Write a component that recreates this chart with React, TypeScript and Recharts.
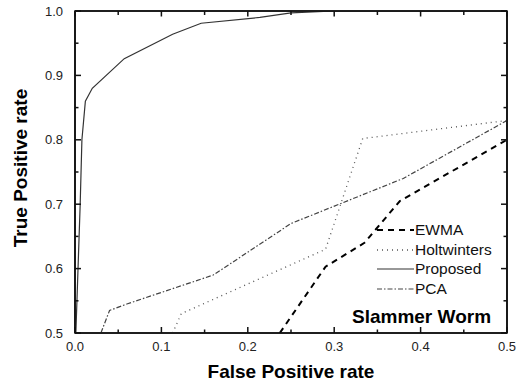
import React from "react";
import { LineChart, Line, XAxis, YAxis, Label, ReferenceArea } from "recharts";

// ROC curves, Slammer Worm
const seriesNames = ["EWMA", "Holtwinters", "Proposed", "PCA"];

const ewmaFpr = [0.237, 0.29, 0.335, 0.376, 0.5];
const ewmaTpr = [0.5, 0.603, 0.64, 0.705, 0.8];

const holtFpr = [0.113, 0.123, 0.29, 0.333, 0.5];
const holtTpr = [0.5, 0.53, 0.63, 0.802, 0.83];

const proposedFpr = [0.001, 0.006, 0.008, 0.012, 0.02, 0.057, 0.113, 0.146, 0.214, 0.25, 0.3, 0.5];
const proposedTpr = [0.5, 0.7, 0.8, 0.86, 0.88, 0.926, 0.964, 0.981, 0.99, 0.997, 1.0, 1.0];

const pcaFpr = [0.03, 0.04, 0.06, 0.16, 0.25, 0.38, 0.5];
const pcaTpr = [0.5, 0.535, 0.545, 0.59, 0.67, 0.74, 0.83];

const xTicks = [0, 0.05, 0.1, 0.15, 0.2, 0.25, 0.3, 0.35, 0.4, 0.45, 0.5];
const yTicks = [0.5, 0.55, 0.6, 0.65, 0.7, 0.75, 0.8, 0.85, 0.9, 0.95, 1.0];

const toPoints = (xs: number[], ys: number[]) => xs.map((x, i) => ({ x, y: ys[i] }));

const FONT = "'Liberation Sans', Arial, Helvetica, sans-serif";
const FRAME = "#111";

const lineStyles: Record<string, { stroke: string; width: number; dash?: string }> = {
  EWMA: { stroke: "#000", width: 2, dash: "6 5" },
  Holtwinters: { stroke: "#555", width: 1.3, dash: "1 4" },
  Proposed: { stroke: "#333", width: 1.2 },
  PCA: { stroke: "#444", width: 1.2, dash: "5 2 1.5 2" },
};

const isMajor = (v: number) => Math.abs(v * 10 - Math.round(v * 10)) < 1e-6;

const BottomTick = (props: any) => {
  const { x, y, payload } = props;
  const major = isMajor(payload.value);
  return (
    <g>
      <line x1={x} x2={x} y1={y} y2={y - (major ? 6 : 3.5)} stroke={FRAME} strokeWidth={1.5} />
      {major && (
        <text x={x} y={y + 18} textAnchor="middle" fontSize={13} fill="#222" fontFamily={FONT}>
          {payload.value.toFixed(1)}
        </text>
      )}
    </g>
  );
};

const TopTick = (props: any) => {
  const { x, y, payload } = props;
  const major = isMajor(payload.value);
  return <line x1={x} x2={x} y1={y} y2={y + (major ? 5.5 : 4)} stroke={FRAME} strokeWidth={1.5} />;
};

const LeftTick = (props: any) => {
  const { x, y, payload } = props;
  const major = isMajor(payload.value);
  return (
    <g>
      <line x1={x} x2={x + (major ? 6 : 3.5)} y1={y} y2={y} stroke={FRAME} strokeWidth={1.5} />
      {major && (
        <text x={x - 12} y={y + 4.5} textAnchor="end" fontSize={13} fill="#222" fontFamily={FONT}>
          {payload.value.toFixed(1)}
        </text>
      )}
    </g>
  );
};

const RightTick = (props: any) => {
  const { x, y, payload } = props;
  const major = isMajor(payload.value);
  return <line x1={x} x2={x - (major ? 6 : 3.5)} y1={y} y2={y} stroke={FRAME} strokeWidth={1.5} />;
};

const LegendBox = () => (
  <div style={{ position: "absolute", left: 375, top: 220, fontFamily: FONT, pointerEvents: "none" }}>
    {seriesNames.map((name) => {
      const s = lineStyles[name];
      return (
        <div key={name} style={{ display: "flex", alignItems: "center", height: 19.7 }}>
          <svg width={40} height={10} style={{ display: "block" }}>
            <line x1={2} x2={39} y1={5} y2={5} stroke={s.stroke} strokeWidth={s.width} strokeDasharray={s.dash} />
          </svg>
          <span style={{ fontSize: 15.5, color: "#111" }}>{name}</span>
        </div>
      );
    })}
    <div style={{ fontSize: 19, fontWeight: "bold", color: "#000", marginTop: 7, marginLeft: -23 }}>
      Slammer Worm
    </div>
  </div>
);

const xTitle = (p: any) => {
  const vb = p.viewBox;
  return (
    <text x={vb.x + vb.width / 2} y={vb.y + 45} textAnchor="middle" fontSize={19} fontWeight="bold" fontFamily={FONT} fill="#000">
      False Positive rate
    </text>
  );
};

const yTitle = (p: any) => {
  const vb = p.viewBox;
  const cx = vb.x + 27;
  const cy = vb.y + vb.height / 2 - 4;
  return (
    <text x={cx} y={cy} transform={`rotate(-90, ${cx}, ${cy})`} textAnchor="middle" fontSize={19} fontWeight="bold" fontFamily={FONT} fill="#000">
      True Positive rate
    </text>
  );
};

const series = [
  { name: "EWMA", data: toPoints(ewmaFpr, ewmaTpr) },
  { name: "Holtwinters", data: toPoints(holtFpr, holtTpr) },
  { name: "Proposed", data: toPoints(proposedFpr, proposedTpr) },
  { name: "PCA", data: toPoints(pcaFpr, pcaTpr) },
];

export default function App() {
  return (
    <div style={{ position: "absolute", left: 0, top: 0, width: 522, height: 383 }}>
      <LineChart width={522} height={383} margin={{ top: 10, right: 14, left: 0, bottom: 0 }}>
        <XAxis
          dataKey="x"
          type="number"
          domain={[0, 0.5]}
          ticks={xTicks}
          interval={0}
          allowDataOverflow
          height={50}
          tickSize={0}
          tickMargin={0}
          tick={<BottomTick />}
          axisLine={{ stroke: FRAME, strokeWidth: 1.6 }}
        >
          <Label content={xTitle} />
        </XAxis>
        <XAxis
          xAxisId="top"
          dataKey="x"
          type="number"
          orientation="top"
          domain={[0, 0.5]}
          ticks={xTicks}
          interval={0}
          allowDataOverflow
          height={1}
          tickSize={0}
          tickMargin={0}
          tick={<TopTick />}
          axisLine={{ stroke: FRAME, strokeWidth: 1.6 }}
        />
        <YAxis
          dataKey="y"
          type="number"
          domain={[0.5, 1]}
          ticks={yTicks}
          interval={0}
          allowDataOverflow
          width={75}
          tickSize={0}
          tickMargin={0}
          tick={<LeftTick />}
          axisLine={{ stroke: FRAME, strokeWidth: 1.6 }}
        >
          <Label content={yTitle} />
        </YAxis>
        <YAxis
          yAxisId="right"
          dataKey="y"
          type="number"
          orientation="right"
          domain={[0.5, 1]}
          ticks={yTicks}
          interval={0}
          allowDataOverflow
          width={1}
          tickSize={0}
          tickMargin={0}
          tick={<RightTick />}
          axisLine={{ stroke: FRAME, strokeWidth: 1.6 }}
        />
        <ReferenceArea x1={0} x2={0.5} y1={0.5} y2={1} fill="none" stroke={FRAME} strokeWidth={1.6} />
        {series.map((s) => {
          const st = lineStyles[s.name];
          return (
            <Line
              key={s.name}
              name={s.name}
              data={s.data}
              dataKey="y"
              type="linear"
              stroke={st.stroke}
              strokeWidth={st.width}
              strokeDasharray={st.dash}
              dot={false}
              isAnimationActive={false}
            />
          );
        })}
      </LineChart>
      <LegendBox />
    </div>
  );
}
